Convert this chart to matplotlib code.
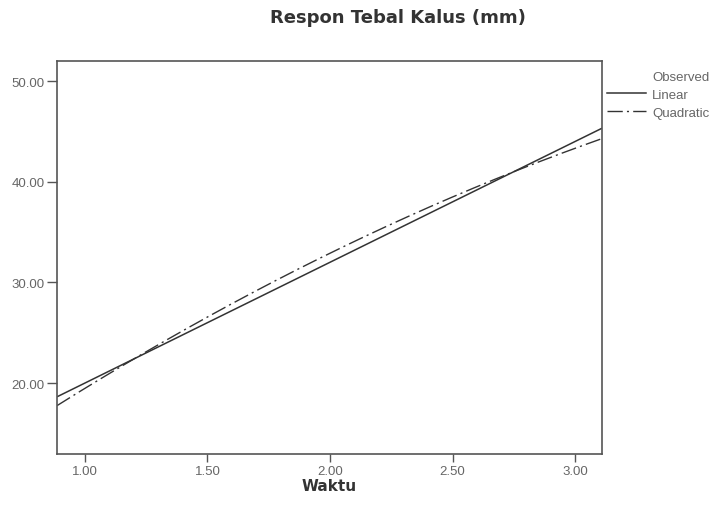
import numpy as np
import matplotlib
matplotlib.use("Agg")
import matplotlib.pyplot as plt
from matplotlib.lines import Line2D

plt.rcParams['font.family'] = ['Liberation Sans', 'DejaVu Sans']

# Fitted curve coefficients (highest power last)
linear_coef = [8.0, 12.0]
quadratic_coef = [3.05, 17.925, -1.5]

x_min, x_max = 0.886, 3.11
y_min, y_max = 12.95, 52.0
x_ticks = [1.0, 1.5, 2.0, 2.5, 3.0]
y_ticks = [20.0, 30.0, 40.0, 50.0]
legend_labels = ["Observed", "Linear", "Quadratic"]

xs = np.linspace(x_min, x_max, 200)
lin = np.polynomial.polynomial.polyval(xs, linear_coef)
quad = np.polynomial.polynomial.polyval(xs, quadratic_coef)

fig = plt.figure(figsize=(7.13, 5.06), dpi=100)
ax = fig.add_axes([57 / 713, 1 - 455 / 506, (602 - 57) / 713, (455 - 62) / 506])

line_color = '#333333'
dashdot = (0, (11, 3, 1.5, 3))
ax.plot(xs, lin, color=line_color, lw=1.1, solid_capstyle='butt')
ax.plot(xs, quad, color=line_color, lw=1.0, linestyle=dashdot)

ax.set_xlim(x_min, x_max)
ax.set_ylim(y_min, y_max)
ax.set_xticks(x_ticks)
ax.set_xticklabels([f"{v:.2f}" for v in x_ticks])
ax.set_yticks(y_ticks)
ax.set_yticklabels([f"{v:.2f}" for v in y_ticks])
ax.tick_params(axis='y', direction='out', length=7, width=1.0, color='#555555',
               labelsize=9.5, labelcolor='#666666', pad=2)
ax.tick_params(axis='x', direction='out', length=6, width=1.0, color='#555555',
               labelsize=9.5, labelcolor='#666666', pad=2)
for s in ax.spines.values():
    s.set_color('#555555')
    s.set_linewidth(1.2)

ax.set_xlabel("Waktu", fontsize=11, fontweight='bold', color='#333333',
              family=['DejaVu Sans'], labelpad=1)
fig.text(398 / 713, 1 - 18 / 506, "Respon Tebal Kalus (mm)", ha='center', va='center',
         fontsize=13, fontweight='bold', color='#333333', family=['DejaVu Sans'])

handles = [
    Line2D([], [], color='none'),
    Line2D([], [], color=line_color, lw=1.1),
    Line2D([], [], color=line_color, lw=1.0, linestyle=dashdot),
]
leg = fig.legend(handles, legend_labels, loc='upper left',
                 bbox_to_anchor=(602 / 713, 1 - 66 / 506), frameon=False,
                 fontsize=9.5, handlelength=2.9, handletextpad=0.5,
                 labelspacing=0.45, borderaxespad=0)
for t in leg.get_texts():
    t.set_color('#666666')

fig.savefig("out.png", dpi=100)
